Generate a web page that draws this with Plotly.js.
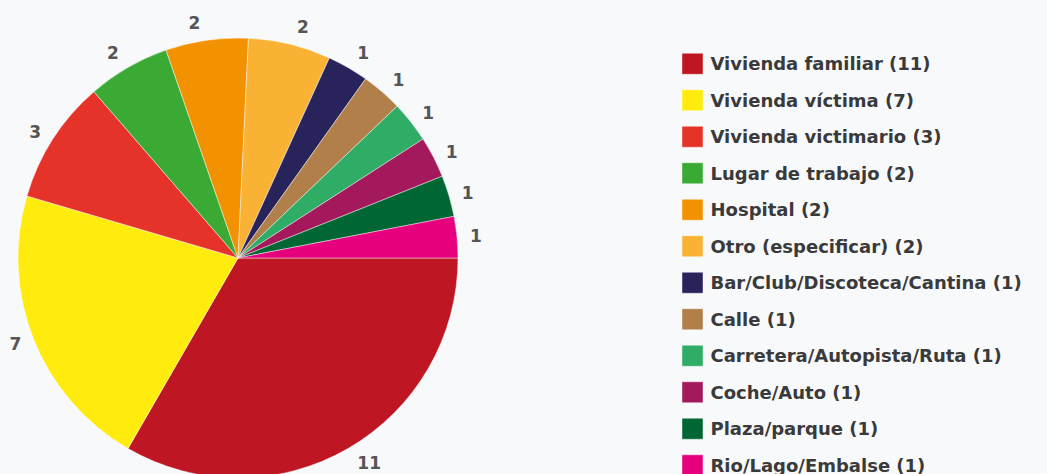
<!DOCTYPE html>
<html>
<head>
<meta charset="utf-8">
<script src="https://cdn.plot.ly/plotly-3.0.1.min.js"></script>
<style>
html,body{margin:0;padding:0;overflow:hidden;background:#f8f9fb;width:1047px;height:474px;}
#chart{width:1047px;height:560px;}
</style>
</head>
<body>
<div id="chart"></div>
<script>
const categories = [
  "Vivienda familiar", "Vivienda víctima", "Vivienda victimario", "Lugar de trabajo",
  "Hospital", "Otro (especificar)", "Bar/Club/Discoteca/Cantina", "Calle",
  "Carretera/Autopista/Ruta", "Coche/Auto", "Plaza/parque", "Rio/Lago/Embalse"
];
const values = [11, 7, 3, 2, 2, 2, 1, 1, 1, 1, 1, 1];
const colors = [
  "#BE1622", "#FFEC0E", "#E6332A", "#3AAA35",
  "#F39200", "#F9B233", "#29235C", "#B17F4A",
  "#2FAC66", "#A3195B", "#006633", "#E6007E"
];

const legendLabels = categories.map((c, i) =>
  '<span style="font-size:18px;font-weight:bold">' + c + ' (' + values[i] + ')</span>');

const W = 1047, H = 560;
const CX = 238, CY = 258;
const trace = {
  type: 'pie',
  labels: legendLabels,
  values: values,
  sort: false,
  direction: 'clockwise',
  rotation: 90,
  marker: {colors: colors, line: {color: 'rgba(255,255,255,0.55)', width: 0.8}},
  textinfo: 'value',
  textposition: 'outside',
  outsidetextfont: {family: 'DejaVu Sans', size: 17, color: '#555555', weight: 'bold'},
  hoverinfo: 'none',
  domain: {x: [0, 476 / W], y: [(H - 478) / H, (H - 38) / H]}
};

const layout = {
  width: W, height: H,
  margin: {l: 0, r: 0, t: 0, b: 0},
  paper_bgcolor: '#f8f9fb',
  plot_bgcolor: '#f8f9fb',
  showlegend: true,
  legend: {
    x: 672.5 / W, xanchor: 'left',
    y: (H - 40.5) / H, yanchor: 'top',
    font: {family: 'DejaVu Sans', size: 25.77, color: '#3a3a3a'},
    bgcolor: 'rgba(0,0,0,0)', borderwidth: 0
  }
};

Plotly.newPlot('chart', [trace], layout, {displayModeBar: false, staticPlot: true}).then(() => {
  document.querySelectorAll('.legend .legendpoints path').forEach(p => {
    p.setAttribute('d', 'M10.5,10.5H-10.5V-10.5H10.5Z');
  });
  document.querySelectorAll('.legend .legendtext').forEach(t => {
    const y = parseFloat(t.getAttribute('y') || '0');
    const x = parseFloat(t.getAttribute('x') || '0');
    t.setAttribute('y', y - 3.8);
    t.setAttribute('x', x - 2);
  });
  document.querySelectorAll('.slicetext').forEach(t => {
    const tr = t.getAttribute('transform') || '';
    const m = tr.match(/translate\(\s*([-\d.e]+)[ ,]+([-\d.e]+)\s*\)/);
    if (!m) return;
    const bb = t.getBBox();
    const x = parseFloat(m[1]), y = parseFloat(m[2]);
    const px = x + bb.x + bb.width / 2, py = y + bb.y + bb.height / 2;
    const dx = px - CX, dy = py - CY, d = Math.hypot(dx, dy) || 1;
    const push = 8;
    const nx = x + dx / d * push, ny = y + dy / d * push;
    t.setAttribute('transform', tr.replace(m[0], 'translate(' + nx + ',' + ny + ')'));
  });
});
</script>
</body>
</html>
